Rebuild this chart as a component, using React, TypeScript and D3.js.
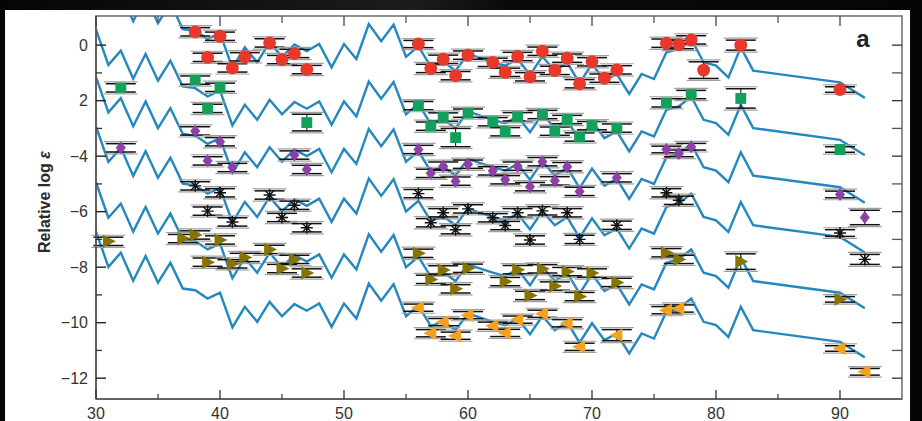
import React from "react";
import * as d3 from "d3";

const W = 922;
const H = 421;

// Model (solar r-process) pattern
const templateZ = [30,31,32,33,34,35,36,37,38,39,40,41,42,43,44,45,46,47,48,49,50,51,52,53,54,55,56,57,58,59,60,61,62,63,64,65,66,67,68,69,70,71,72,73,74,75,76,77,78,79,80,81,82,83,90,92];
const templateLogE = [-6.72,-7.99,-7.48,-8.49,-7.60,-8.56,-7.84,-8.77,-8.83,-9.13,-8.92,-10.17,-9.43,-9.97,-9.25,-9.77,-9.33,-9.57,-9.31,-10.15,-9.31,-9.85,-8.59,-9.21,-8.61,-9.77,-9.39,-10.12,-9.95,-10.27,-9.67,-9.82,-9.97,-10.09,-9.85,-10.42,-9.76,-10.27,-9.98,-10.72,-10.02,-10.63,-10.39,-11.11,-10.39,-10.57,-9.61,-9.49,-9.13,-9.97,-10.09,-10.51,-9.43,-10.27,-10.69,-11.25];
const curveOffsets = [9.35, 7.28, 5.57, 3.78, 1.77, 0];

// Stars (observed abundances)
const redZ = [38,39,40,41,42,44,45,46,47,56,57,58,59,60,62,63,64,65,66,67,68,69,70,71,72,76,77,78,79,82,90];
const redLogE = [0.48,-0.44,0.32,-0.82,-0.42,0.08,-0.52,-0.30,-0.88,0.04,-0.84,-0.51,-1.10,-0.36,-0.62,-0.98,-0.41,-1.14,-0.22,-0.91,-0.47,-1.39,-0.60,-1.19,-0.89,0.07,0.02,0.19,-0.90,0.0,-1.6];
const redErr = [0.15,0.15,0.15,0.15,0.15,0.15,0.15,0.15,0.15,0.13,0.15,0.15,0.15,0.15,0.15,0.15,0.15,0.15,0.15,0.15,0.15,0.15,0.15,0.15,0.15,0.15,0.15,0.15,0.3,0.18,0.1];

const greenZ = [32,38,39,40,47,56,57,58,59,60,62,63,64,66,67,68,69,70,72,76,78,82,90];
const greenLogE = [-1.54,-1.26,-2.28,-1.52,-2.79,-2.18,-2.92,-2.59,-3.33,-2.45,-2.76,-3.12,-2.58,-2.5,-3.1,-2.68,-3.31,-2.9,-2.99,-2.08,-1.78,-1.92,-3.76];
const greenErr = [0.15,0.15,0.15,0.15,0.3,0.15,0.15,0.15,0.33,0.15,0.15,0.15,0.15,0.15,0.15,0.15,0.15,0.15,0.15,0.15,0.15,0.35,0.1];

const purpleZ = [32,38,39,40,41,46,47,56,57,58,59,60,62,63,64,65,66,67,68,69,72,76,77,78,90,92];
const purpleLogE = [-3.7,-3.09,-4.17,-3.48,-4.41,-3.96,-4.48,-3.76,-4.62,-4.36,-4.9,-4.29,-4.53,-4.85,-4.36,-5.1,-4.2,-4.89,-4.38,-5.27,-4.78,-3.76,-3.9,-3.66,-5.38,-6.21];
const purpleErr = [0.15,0.15,0.15,0.15,0.15,0.15,0.15,0.15,0.15,0.15,0.15,0.15,0.15,0.15,0.15,0.15,0.15,0.15,0.15,0.15,0.15,0.12,0.12,0.12,0.12,0.26];

const starZ = [38,39,40,41,44,45,46,47,56,57,58,59,60,62,63,64,65,66,68,69,72,76,77,90,92];
const starLogE = [-5.07,-5.98,-5.32,-6.37,-5.4,-6.21,-5.77,-6.58,-5.35,-6.4,-6.04,-6.65,-5.9,-6.22,-6.5,-6.04,-7.02,-5.97,-6.04,-7.0,-6.49,-5.32,-5.59,-6.77,-7.72];
const starErr = [0.15,0.15,0.15,0.15,0.15,0.15,0.15,0.15,0.15,0.15,0.15,0.15,0.15,0.15,0.15,0.15,0.15,0.15,0.15,0.15,0.15,0.15,0.15,0.12,0.18];

const oliveZ = [31,37,38,39,40,41,42,44,45,46,47,56,57,58,59,60,63,64,65,66,67,68,69,70,72,76,77,82,90];
const oliveLogE = [-7.07,-6.97,-6.84,-7.82,-7.02,-7.88,-7.65,-7.36,-8.05,-7.72,-8.21,-7.5,-8.44,-8.1,-8.78,-8.04,-8.52,-8.09,-9.02,-8.06,-8.68,-8.16,-9.06,-8.21,-8.55,-7.48,-7.72,-7.8,-9.16];
const oliveErr = [0.15,0.15,0.15,0.15,0.15,0.15,0.15,0.15,0.15,0.15,0.15,0.15,0.15,0.15,0.15,0.15,0.15,0.15,0.15,0.15,0.15,0.15,0.15,0.15,0.15,0.15,0.15,0.28,0.1];

const orangeZ = [56,57,58,59,60,62,63,64,66,68,69,72,76,77,90,92];
const orangeLogE = [-9.46,-10.38,-9.98,-10.47,-9.73,-10.11,-10.37,-9.89,-9.68,-10.02,-10.87,-10.45,-9.55,-9.49,-10.93,-11.77];
const orangeErr = [0.13,0.13,0.13,0.13,0.13,0.13,0.13,0.13,0.13,0.13,0.13,0.2,0.13,0.13,0.1,0.12];

const xMajorTicks = [30, 40, 50, 60, 70, 80, 90];
const xTickLabels = ["30", "40", "50", "60", "70", "80", "90"];
const xMinorTicks = [35, 45, 55, 65, 75, 85];
const yMajorTicks = [0, -2, -4, -6, -8, -10, -12];
const yTickLabels = ["0", "2", "\u22124", "\u22126", "\u22128", "\u221210", "\u221212"];
const yMinorTicks = [-1, -3, -5, -7, -9, -11];

const PL = 96, PR = 902, PT = 16, PB = 399;

const x = d3.scaleLinear().domain([30, 95]).range([PL, PR]);
const y = d3.scaleLinear().domain([1.05, -12.75]).range([PT, PB]);

const markerPaths: Record<string, string> = {
  circle: d3.symbol().type(d3.symbolCircle).size(130)() as string,
  square: d3.symbol().type(d3.symbolSquare).size(118)() as string,
  diamond: "M0,-6.5L5,0L0,6.5L-5,0Z",
  star: "M-6,0H6M0,-6V6M-4.3,-4.3L4.3,4.3M-4.3,4.3L4.3,-4.3",
  right: "M-5.5,-6.5L7.5,0L-5.5,6.5Z",
  left: "M5.5,-6.5L-7.5,0L5.5,6.5Z",
};

const series = [
  { z: redZ, v: redLogE, e: redErr, shape: "circle", color: "#e8382c" },
  { z: greenZ, v: greenLogE, e: greenErr, shape: "square", color: "#13a05a" },
  { z: purpleZ, v: purpleLogE, e: purpleErr, shape: "diamond", color: "#8e3fa8" },
  { z: starZ, v: starLogE, e: starErr, shape: "star", color: "#111" },
  { z: oliveZ, v: oliveLogE, e: oliveErr, shape: "right", color: "#877300" },
  { z: orangeZ, v: orangeLogE, e: orangeErr, shape: "left", color: "#f6a01c" },
];

export default function App() {
  const line = d3
    .line<number>()
    .x((_, i) => x(templateZ[i]))
    .y((d) => y(d));

  const capW = 15;

  return (
    <svg
      width={W}
      height={H}
      style={{ position: "absolute", left: 0, top: 0, display: "block" }}
      fontFamily="'Liberation Sans', Arial, sans-serif"
    >
      <defs>
        <clipPath id="plotclip">
          <rect x={PL} y={PT} width={PR - PL} height={PB - PT} />
        </clipPath>
        <linearGradient id="bgGrad" x1="0" x2="1" y1="0" y2="0">
          <stop offset="0" stopColor="#050505" />
          <stop offset="0.45" stopColor="#1c1c1c" />
          <stop offset="0.55" stopColor="#0a0a0a" />
          <stop offset="1" stopColor="#050505" />
        </linearGradient>
      </defs>
      <rect x={0} y={0} width={W} height={H} fill="url(#bgGrad)" />
      <rect x={5} y={10} width={905} height={H - 10} fill="#ffffff" />

      {/* model curves */}
      <g clipPath="url(#plotclip)">
        {curveOffsets.map((off, k) => (
          <path
            key={k}
            d={line(templateLogE.map((v) => v + off)) as string}
            fill="none"
            stroke="#2387c0"
            strokeWidth={2.4}
            strokeLinejoin="miter"
          />
        ))}
      </g>

      {/* error bars */}
      {series.map((s, si) => (
        <g key={"e" + si}>
          {s.z.map((z, i) => {
            const cx = x(z);
            const v = s.v[i];
            const e = s.e[i];
            const e2 = e + 0.07;
            return (
              <g key={i}>
                <line x1={cx - capW - 2} x2={cx + capW + 2} y1={y(v + e2)} y2={y(v + e2)} stroke="#a0a0a0" strokeWidth={1.2} />
                <line x1={cx - capW - 2} x2={cx + capW + 2} y1={y(v - e2)} y2={y(v - e2)} stroke="#a0a0a0" strokeWidth={1.2} />
                <line x1={cx} x2={cx} y1={y(v + e)} y2={y(v - e)} stroke="#222" strokeWidth={1.1} />
                <line x1={cx - capW} x2={cx + capW} y1={y(v + e)} y2={y(v + e)} stroke="#111" strokeWidth={1.5} />
                <line x1={cx - capW} x2={cx + capW} y1={y(v - e)} y2={y(v - e)} stroke="#111" strokeWidth={1.5} />
              </g>
            );
          })}
        </g>
      ))}

      {/* markers */}
      {series.map((s, si) => (
        <g key={"m" + si}>
          {s.z.map((z, i) => (
            <path
              key={i}
              transform={`translate(${x(z)},${y(s.v[i])})`}
              d={markerPaths[s.shape]}
              fill={s.shape === "star" ? "none" : s.color}
              stroke={s.shape === "star" ? s.color : "none"}
              strokeWidth={s.shape === "star" ? 1.4 : 0}
            />
          ))}
        </g>
      ))}

      {/* frame */}
      <rect x={PL} y={PT} width={PR - PL} height={PB - PT} fill="none" stroke="#6a6a6a" strokeWidth={1.5} />
      <line x1={PL} x2={PL} y1={PT} y2={PB} stroke="#555" strokeWidth={1.6} />
      <line x1={PL} x2={PR} y1={PB} y2={PB} stroke="#555" strokeWidth={1.6} />

      {/* x ticks */}
      {xMajorTicks.map((t, i) => (
        <g key={"xt" + i}>
          <line x1={x(t)} x2={x(t)} y1={PB} y2={PB - 9} stroke="#333" strokeWidth={1.3} />
          <line x1={x(t)} x2={x(t)} y1={PT} y2={PT + 10} stroke="#444" strokeWidth={1.3} />
          <text x={x(t)} y={419} textAnchor="middle" fontSize={16} fill="#333">
            {xTickLabels[i]}
          </text>
        </g>
      ))}
      {xMinorTicks.map((t, i) => (
        <g key={"xm" + i}>
          <line x1={x(t)} x2={x(t)} y1={PB} y2={PB - 5} stroke="#444" strokeWidth={1.3} />
          <line x1={x(t)} x2={x(t)} y1={PT} y2={PT + 7} stroke="#555" strokeWidth={1.3} />
        </g>
      ))}

      {/* y ticks */}
      {yMajorTicks.map((t, i) => (
        <g key={"yt" + i}>
          <line x1={PL} x2={PL + 10} y1={y(t)} y2={y(t)} stroke="#222" strokeWidth={1.4} />
          <line x1={PR} x2={PR - 10} y1={y(t)} y2={y(t)} stroke="#333" strokeWidth={1.3} />
          <text x={88} y={y(t) + 5.5} textAnchor="end" fontSize={16} fill="#333">
            {yTickLabels[i]}
          </text>
        </g>
      ))}
      {yMinorTicks.map((t, i) => (
        <g key={"ym" + i}>
          <line x1={PL} x2={PL + 6} y1={y(t)} y2={y(t)} stroke="#333" strokeWidth={1.3} />
          <line x1={PR} x2={PR - 10} y1={y(t)} y2={y(t)} stroke="#555" strokeWidth={1.3} />
        </g>
      ))}

      {/* axis title */}
      <text
        transform={`translate(50,202) rotate(-90)`}
        textAnchor="middle"
        fontSize={16}
        fontWeight="bold"
        fill="#2a2a2a"
      >
        Relative log <tspan fontStyle="italic">ε</tspan>
      </text>

      {/* panel label */}
      <text x={863} y={47} textAnchor="middle" fontSize={24} fontWeight="bold" fill="#222">
        a
      </text>
    </svg>
  );
}
